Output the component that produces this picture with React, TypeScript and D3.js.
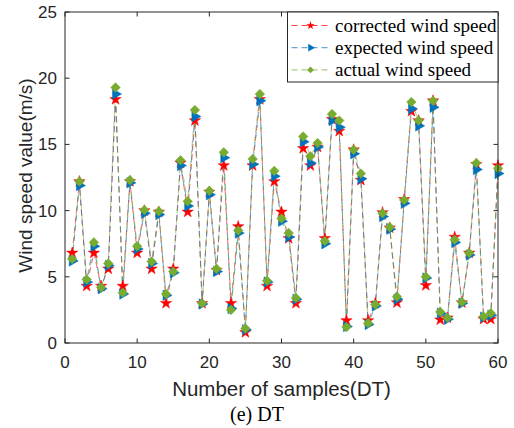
import React, { useEffect, useRef } from 'react';
import * as d3 from 'd3';

// wind speed values read per sample (1..60)
const correctedSpeed = [
  6.8, 12.2, 4.3, 6.8, 4.3, 5.6, 18.4, 4.3, 12.2, 6.8,
  10.0, 5.6, 9.9, 3.0, 5.6, 13.6, 9.9, 16.8, 3.0, 11.4,
  5.5, 13.4, 3.0, 8.8, 0.8, 13.4, 18.4, 4.3, 12.2, 9.9,
  7.9, 3.0, 14.7, 13.4, 14.8, 7.9, 16.9, 16.0, 1.7, 14.6,
  12.3, 1.7, 3.0, 9.85, 8.7, 3.05, 10.85, 17.5, 16.8, 4.35,
  18.3, 1.75, 1.9, 8.0, 3.05, 6.8, 13.5, 1.8, 1.8, 13.4,
];
const expectedSpeed = [
  6.2, 11.9, 4.6, 7.3, 4.1, 5.85, 18.8, 3.7, 12.1, 7.1,
  9.8, 6.0, 9.7, 3.6, 5.3, 13.4, 10.35, 17.1, 2.95, 11.2,
  5.4, 14.0, 2.6, 8.3, 1.0, 13.5, 18.3, 4.6, 12.6, 9.2,
  8.0, 3.3, 15.2, 13.6, 14.8, 7.5, 16.8, 16.3, 1.25, 14.3,
  12.4, 1.4, 2.8, 9.55, 8.6, 3.3, 10.55, 17.7, 16.4, 4.9,
  17.8, 2.25, 1.8, 7.6, 3.0, 6.65, 13.1, 1.95, 2.1, 12.8,
];
const actualSpeed = [
  6.35, 12.2, 4.8, 7.6, 4.2, 6.0, 19.3, 3.8, 12.3, 7.3,
  10.05, 6.15, 9.95, 3.7, 5.4, 13.8, 10.7, 17.6, 3.0, 11.5,
  5.6, 14.4, 2.5, 8.5, 1.1, 13.9, 18.8, 4.7, 13.0, 9.4,
  8.3, 3.4, 15.6, 14.1, 15.1, 7.7, 17.3, 16.8, 1.2, 14.6,
  12.8, 1.5, 2.9, 9.8, 8.75, 3.5, 10.8, 18.2, 16.8, 5.0,
  18.3, 2.35, 1.9, 7.8, 3.1, 6.8, 13.6, 2.0, 2.25, 13.2,
];

const xTicks = [0, 10, 20, 30, 40, 50, 60];
const yTicks = [0, 5, 10, 15, 20, 25];

const seriesNames = ['corrected wind speed', 'expected wind speed', 'actual wind speed'];
const seriesColors = ['#ff0000', '#0072bd', '#77ac30'];

const WIDTH = 514;
const HEIGHT = 428;
const margin = { left: 65, right: 16, top: 12, bottom: 85 };
const axisColor = '#262626';

const plotSizes = [40, 48, 46];
const legendSizes = [22, 26, 22];
const markerPath = (kind: number, size: number) => {
  if (kind === 0) return d3.symbol().type(d3.symbolStar).size(size)();
  if (kind === 1) return d3.symbol().type(d3.symbolTriangle).size(size)();
  return d3.symbol().type(d3.symbolSquare).size(size)();
};
const markerRotate = [0, 90, 45];

const App = () => {
  const svgRef = useRef<SVGSVGElement>(null);

  useEffect(() => {
    const svg = d3.select(svgRef.current);
    svg.selectAll('*').remove();

    const innerW = WIDTH - margin.left - margin.right;
    const innerH = HEIGHT - margin.top - margin.bottom;

    const x = d3.scaleLinear().domain([0, 60]).range([margin.left, margin.left + innerW]);
    const y = d3.scaleLinear().domain([0, 25]).range([margin.top + innerH, margin.top]);

    const series = [correctedSpeed, expectedSpeed, actualSpeed];

    svg
      .append('rect')
      .attr('x', margin.left)
      .attr('y', margin.top)
      .attr('width', innerW)
      .attr('height', innerH)
      .attr('fill', '#fff');

    const line = d3
      .line<number>()
      .x((d, i) => x(i + 1))
      .y(d => y(d));

    const plot = svg.append('g');

    series.forEach((values, k) => {
      plot
        .append('path')
        .attr('d', line(values))
        .attr('fill', 'none')
        .attr('stroke', seriesColors[k])
        .attr('stroke-width', 0.8)
        .attr('stroke-dasharray', '6,4')
        .attr('opacity', 0.75);
    });

    series.forEach((values, k) => {
      plot
        .selectAll('.marker-' + k)
        .data(values)
        .enter()
        .append('path')
        .attr('class', 'marker-' + k)
        .attr('d', markerPath(k, plotSizes[k]))
        .attr('fill', seriesColors[k])
        .attr('stroke', seriesColors[k])
        .attr('stroke-width', 0.5)
        .attr('transform', (d, i) => 'translate(' + x(i + 1) + ',' + y(d) + ') rotate(' + markerRotate[k] + ')');
    });

    // box + axes
    const axes = svg.append('g').attr('font-family', 'Liberation Sans, Arial, sans-serif');
    axes
      .append('rect')
      .attr('x', margin.left)
      .attr('y', margin.top)
      .attr('width', innerW)
      .attr('height', innerH)
      .attr('fill', 'none')
      .attr('stroke', axisColor)
      .attr('stroke-width', 1);

    const tickLen = 4.5;
    xTicks.forEach(t => {
      axes.append('line')
        .attr('x1', x(t)).attr('x2', x(t))
        .attr('y1', y(0)).attr('y2', y(0) - tickLen)
        .attr('stroke', axisColor);
      axes.append('line')
        .attr('x1', x(t)).attr('x2', x(t))
        .attr('y1', y(25)).attr('y2', y(25) + tickLen)
        .attr('stroke', axisColor);
      axes.append('text')
        .attr('x', x(t))
        .attr('y', y(0) + 25)
        .attr('text-anchor', 'middle')
        .attr('font-size', 17)
        .attr('fill', axisColor)
        .text(t);
    });
    yTicks.forEach(t => {
      axes.append('line')
        .attr('x1', x(0)).attr('x2', x(0) + tickLen)
        .attr('y1', y(t)).attr('y2', y(t))
        .attr('stroke', axisColor);
      axes.append('line')
        .attr('x1', x(60)).attr('x2', x(60) - tickLen)
        .attr('y1', y(t)).attr('y2', y(t))
        .attr('stroke', axisColor);
      axes.append('text')
        .attr('x', x(0) - 8)
        .attr('y', y(t) + 6)
        .attr('text-anchor', 'end')
        .attr('font-size', 17)
        .attr('fill', axisColor)
        .text(t);
    });

    axes.append('text')
      .attr('x', (x(0) + x(60)) / 2)
      .attr('y', y(0) + 53)
      .attr('text-anchor', 'middle')
      .attr('font-size', 20.5)
      .attr('fill', axisColor)
      .text('Number of samples(DT)');

    axes.append('text')
      .attr('transform', 'translate(' + 32 + ',' + ((y(0) + y(25)) / 2 - 2) + ') rotate(-90)')
      .attr('text-anchor', 'middle')
      .attr('font-size', 19)
      .attr('fill', axisColor)
      .text('Wind speed value(m/s)');

    svg.append('text')
      .attr('x', 257)
      .attr('y', 421)
      .attr('text-anchor', 'middle')
      .attr('font-family', 'Liberation Serif, Times New Roman, serif')
      .attr('font-size', 20)
      .attr('fill', '#000')
      .text('(e) DT');

    // legend
    const legend = svg.append('g').attr('transform', 'translate(' + 287.5 + ',' + margin.top + ')');
    legend.append('rect')
      .attr('width', x(60) - 287.5)
      .attr('height', 70)
      .attr('fill', '#fff')
      .attr('stroke', axisColor);

    const legendItem = legend
      .selectAll('.legend')
      .data(seriesNames)
      .enter()
      .append('g')
      .attr('class', 'legend')
      .attr('transform', (d, i) => 'translate(0,' + (13.5 + i * 22.2) + ')');

    legendItem.append('line')
      .attr('x1', 4).attr('x2', 44)
      .attr('stroke', (d, i) => seriesColors[i])
      .attr('stroke-dasharray', '6,4')
      .attr('opacity', 0.75);
    legendItem.append('path')
      .attr('d', (d, i) => markerPath(i, legendSizes[i]))
      .attr('fill', (d, i) => seriesColors[i])
      .attr('transform', (d, i) => 'translate(23,0) rotate(' + markerRotate[i] + ')');
    legendItem.append('text')
      .attr('x', 47.5)
      .attr('y', 6)
      .attr('font-family', 'Liberation Serif, Times New Roman, serif')
      .attr('font-size', 19)
      .attr('fill', '#000')
      .text(d => d);
  }, []);

  return (
    <svg
      ref={svgRef}
      width={WIDTH}
      height={HEIGHT}
      style={{ position: 'absolute', left: 0, top: 0, background: '#fff' }}
    />
  );
};

export default App;
